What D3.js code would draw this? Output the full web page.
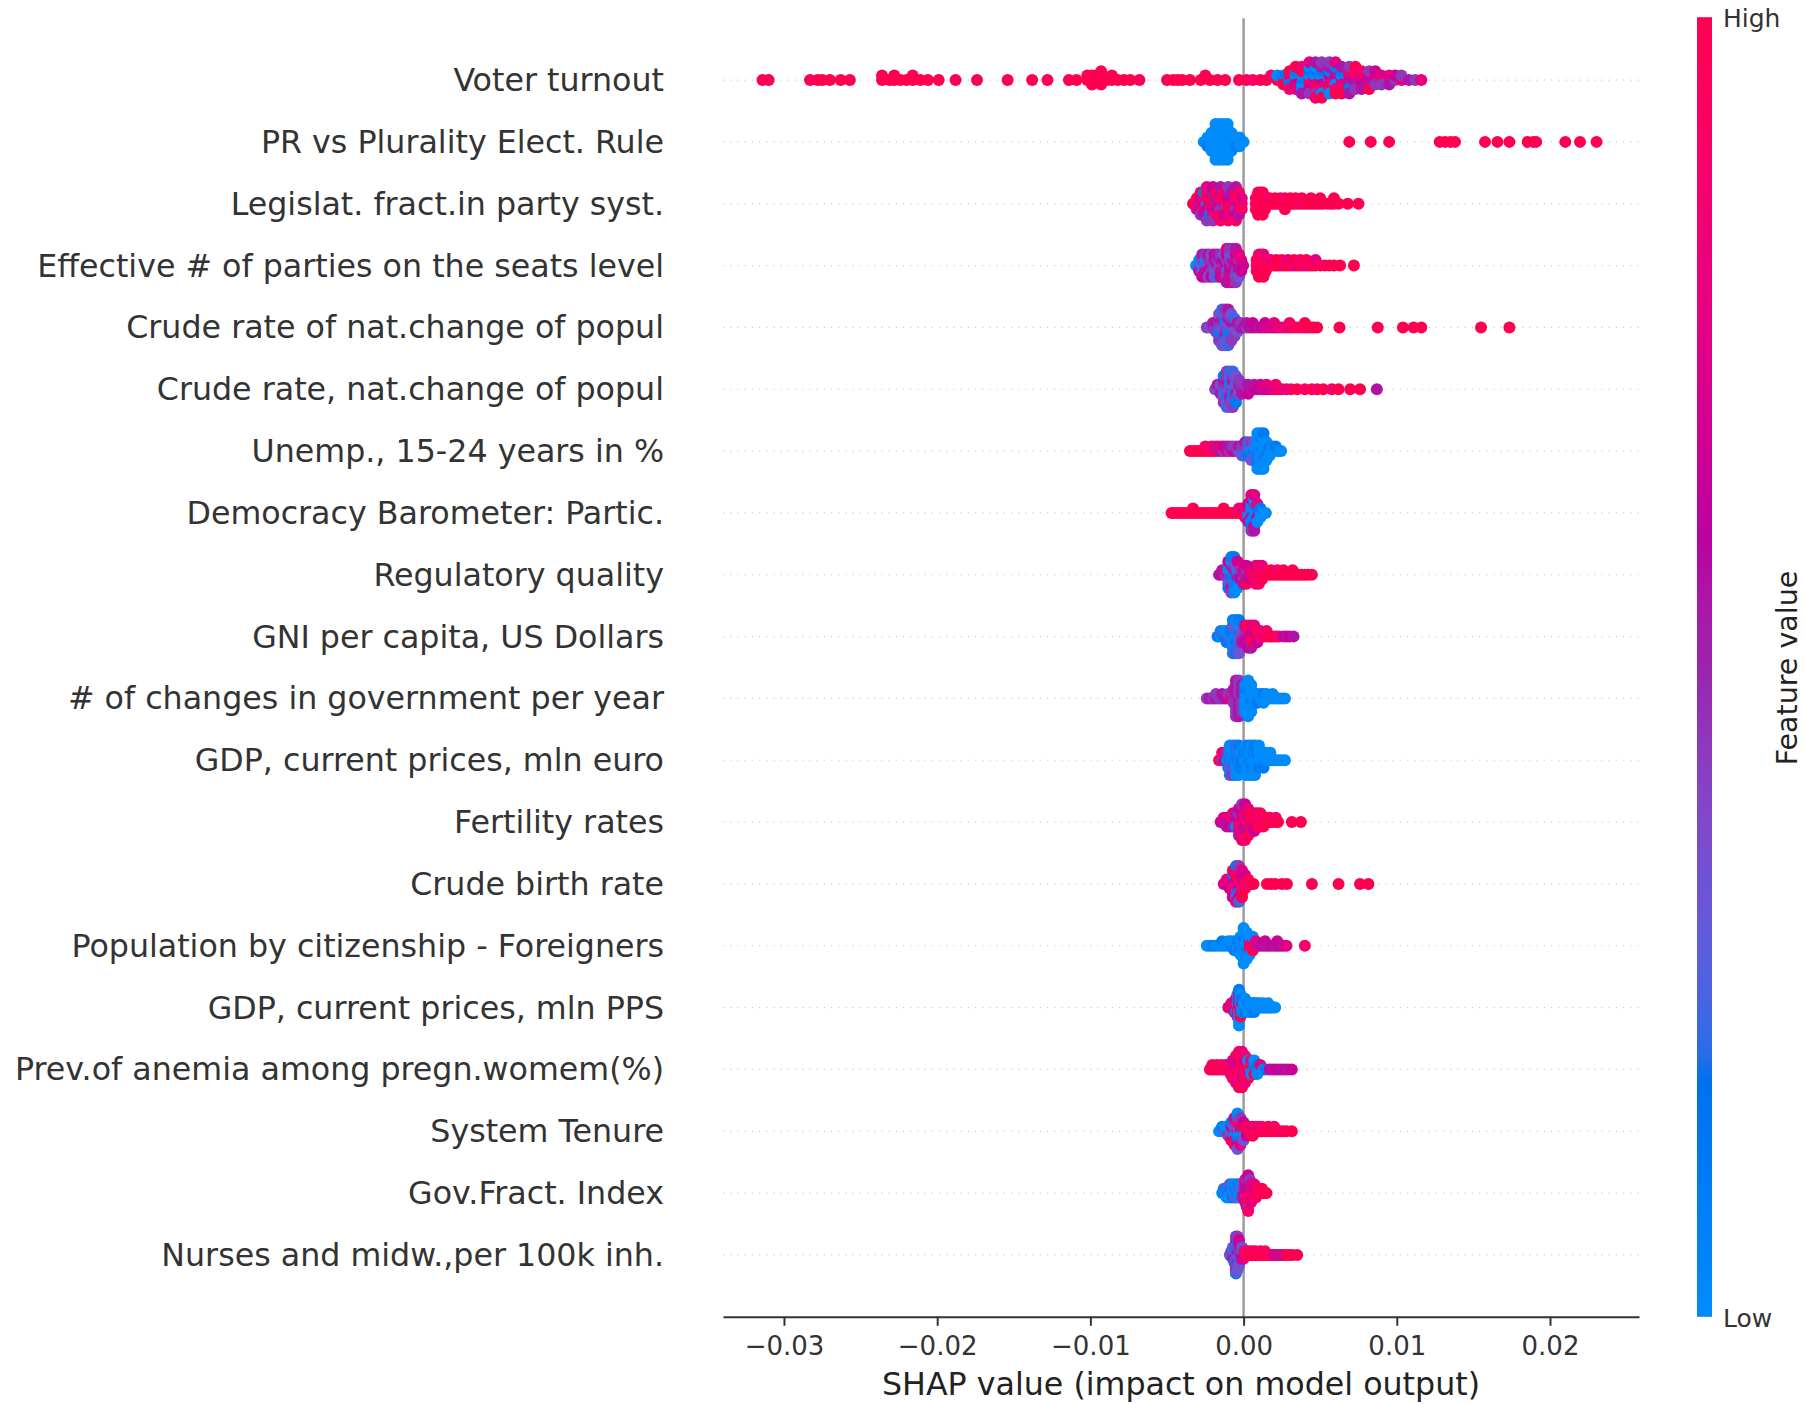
<!DOCTYPE html>
<html>
<head>
<meta charset="utf-8">
<script src="https://cdn.jsdelivr.net/npm/d3@7"></script>
<style>
  html, body { margin: 0; padding: 0; background: #ffffff; }
  svg { display: block; font-family: "DejaVu Sans", sans-serif; }
</style>
</head>
<body>
<svg id="chart" width="1805" height="1404"></svg>
<script>
// Feature names, most important first.
const featureNames = [
  "Voter turnout",
  "PR vs Plurality Elect. Rule",
  "Legislat. fract.in party syst.",
  "Effective # of parties on the seats level",
  "Crude rate of nat.change of popul",
  "Crude rate, nat.change of popul",
  "Unemp., 15-24 years in %",
  "Democracy Barometer: Partic.",
  "Regulatory quality",
  "GNI per capita, US Dollars",
  "# of changes in government per year",
  "GDP, current prices, mln euro",
  "Fertility rates",
  "Crude birth rate",
  "Population by citizenship - Foreigners",
  "GDP, current prices, mln PPS",
  "Prev.of anemia among pregn.womem(%)",
  "System Tenure",
  "Gov.Fract. Index",
  "Nurses and midw.,per 100k inh."
];

// Each entry: [SHAP value in units of 1e-4, feature-value levels of the samples at that value (0 = low ... 9 = high)]
const SHAP_UNIT = 1e-4;

const voterTurnout = [
  [-314,"9"],[-310,"9"],[-283,"9"],[-278,"9"],[-275,"9"],[-270,"9"],[-263,"9"],[-257,"9"],
  [-236,"99"],[-231,"9"],[-228,"99"],[-224,"9"],[-220,"9"],[-216,"99"],[-211,"9"],[-206,"9"],
  [-199,"9"],[-188,"9"],[-174,"9"],[-154,"9"],[-138,"9"],[-128,"9"],[-114,"9"],[-109,"9"],
  [-102,"99"],[-99,"999"],[-96,"99"],[-93,"99"],[-89,"9"],[-86,"99"],[-82,"9"],[-78,"9"],[-74,"9"],[-68,"9"],
  [-50,"9"],[-46,"9"],[-43,"9"],[-40,"9"],[-35,"9"],
  [-28,"9"],[-25,"9"],[-22,"9"],[-17,"9"],[-12,"9"],
  [-3,"9"],[2,"9"],[6,"8"],[11,"9"],[15,"9"],[18,"8"],
  [22,"90"],[26,"819"],[30,"07198"],[34,"806179"],[38,"6019085"],[43,"70816047"],[47,"607190458"],
  [51,"706185049"],[56,"06718504"],[60,"76058197"],[64,"6071859"],[69,"7658145"],[73,"675849"],
  [77,"57685"],[82,"76549"],[86,"5746"],[90,"674"],[95,"475"],[99,"46"],[103,"74"],[108,"5"],[112,"4"],[116,"7"]
];

const prVsPlurality = [
  [-26,"0"],[-23.5,"001"],[-21,"00000"],[-18.3,"000000000"],[-15.7,"000000000"],[-13,"000000000"],
  [-10.4,"000000000"],[-7.8,"00000"],[-5.2,"001"],[-2.6,"000"],[0,"0"],
  [69,"9"],[83,"9"],[95,"9"],[128,"9"],[131.5,"9"],[135,"9"],[138,"9"],[157.6,"9"],[165.7,"9"],
  [173.5,"9"],[185.4,"9"],[189,"9"],[191,"9"],[210,"9"],[219.6,"9"],[230.4,"9"]
];

const legislatFract = [
  [-33,"9"],[-30.5,"797"],[-28,"86594"],[-26,"67815"],[-24,"0869574"],[-22,"68871"],[-20,"7965864"],
  [-17.5,"85697"],[-15,"6847958"],[-12.5,"79486"],[-10,"8695748"],[-7.5,"96857"],[-5,"7849658"],
  [-3,"69785"],[-1.2,"978"],
  [8,"989"],[9.5,"99899"],[11,"9999"],[12.5,"98999"],[14,"999"],[15.5,"99"],[17,"98"],[19,"9"],
  [20.5,"99"],[22,"9"],[24,"99"],[25.5,"9"],[27,"989"],[29,"9"],[30.5,"99"],[32,"9"],[34,"99"],
  [36,"9"],[38,"89"],[40,"9"],[42,"9"],[44,"99"],[46,"9"],[48,"9"],[50,"99"],[52,"9"],[55,"9"],
  [57,"9"],[59,"99"],[62,"9"],[68,"9"],[75,"9"]
];

const effectiveParties = [
  [-31,"0"],[-29,"305"],[-27,"04356"],[-25,"30546"],[-23,"34653"],[-21,"54436"],[-19,"45363"],
  [-17,"64352"],[-15,"35746"],[-13,"46537"],[-11,"5436475"],[-9,"6453745"],[-7,"4563547"],
  [-5,"5746354"],[-3,"64573"],[-1.5,"576"],[-0.3,"6"],
  [8.5,"989"],[10,"99789"],[11.5,"9899"],[13,"98979"],[14.5,"989"],[16,"99"],[18,"97"],[20,"9"],
  [21.5,"89"],[23,"9"],[25,"99"],[27,"8"],[29,"97"],[31,"9"],[33,"89"],[35,"7"],[37,"98"],[39,"9"],
  [41,"79"],[43,"8"],[45,"9"],[47,"97"],[50,"9"],[53,"8"],[56,"9"],[59,"9"],[63,"9"],[72,"9"]
];

const natChangeA = [
  [-24,"4"],[-22,"3"],[-20,"45"],[-18,"354"],[-16,"3425134"],[-14,"243513423"],[-12,"324153243"],
  [-10,"432514352"],[-8,"3524134"],[-6,"45324"],[-4,"453"],[-2,"54"],[0,"5"],[2,"45"],[4,"5"],
  [6,"56"],[8,"6"],[10,"5"],[12,"6"],[14,"76"],[16,"6"],[18,"7"],[20,"67"],[22,"7"],[24,"8"],
  [26,"7"],[28,"8"],[30,"78"],[32,"8"],[34,"9"],[36,"8"],[38,"9"],[40,"89"],[42,"9"],[44,"9"],
  [46,"9"],[48,"9"],[62.6,"9"],[87.6,"9"],[104,"9"],[111,"9"],[116,"9"],[155,"9"],[173.5,"9"]
];

const natChangeB = [
  [-18.5,"4"],[-17,"35"],[-15,"435"],[-13,"3425314"],[-11,"243514342"],[-9,"324153423"],
  [-7,"432514324"],[-5,"1352431"],[-3,"4534"],[-1,"545"],[1,"54"],[3,"456"],[5,"5"],[7,"65"],
  [9,"6"],[11,"56"],[13,"7"],[15,"67"],[17,"6"],[19,"7"],[21,"78"],[23,"7"],[25,"8"],[28,"7"],
  [31,"8"],[35,"9"],[40,"8"],[44.6,"9"],[48,"8"],[52,"9"],[57.6,"8"],[62,"9"],[69.6,"9"],[76,"9"],[87,"5"]
];

const unempYouth = [
  [-35,"9"],[-33,"9"],[-31,"9"],[-29,"9"],[-27,"9"],[-25,"98"],[-23,"9"],[-21,"97"],[-19,"79"],
  [-17,"95"],[-15,"58"],[-13,"46"],[-11,"75"],[-9,"45"],[-7,"64"],[-5,"54"],[-3,"35"],[-1,"243"],
  [1,"1425"],[3,"0312"],[5,"20143"],[7,"1023"],[9,"001020100"],[11,"010001000"],[13,"100020010"],
  [15,"00100"],[17,"010"],[19,"00"],[21,"01"],[23,"0"],[24.5,"0"]
];

const democracyPartic = [
  [-47,"9"],[-45,"9"],[-43,"9"],[-41,"9"],[-39,"9"],[-37,"9"],[-35,"9"],[-33,"99"],[-31,"9"],
  [-29,"9"],[-27,"9"],[-25,"9"],[-23,"9"],[-21,"9"],[-19,"9"],[-17,"9"],[-15,"9"],[-13,"99"],
  [-11,"9"],[-9,"9"],[-7,"9"],[-5,"9"],[-3,"98"],[-1,"97"],[1,"789"],[3,"07065"],
  [5,"005006174"],[7,"100410675"],[9,"01670"],[11,"010"],[13,"0"],[14.5,"0"]
];

const regulatoryQuality = [
  [-16,"5"],[-14,"65"],[-12,"47"],[-10,"5040361"],[-8,"401530614"],[-6,"051403210"],[-4,"4053160"],
  [-2,"546"],[0,"65475"],[2,"74569"],[4,"576"],[6,"98"],[8,"97968"],[10,"89798"],[12,"9897"],
  [14,"98"],[16,"9"],[18,"99"],[20,"9"],[22,"98"],[24,"9"],[26,"99"],[28,"9"],[30,"9"],[32,"99"],
  [34,"9"],[36,"9"],[38,"9"],[40,"9"],[42,"9"],[44.6,"9"]
];

const gniPerCapita = [
  [-17,"1"],[-15,"02"],[-13,"10"],[-11,"201"],[-9,"012"],[-7,"2103012"],[-5,"0213201"],[-3,"3120213"],
  [-1,"435"],[1,"5467"],[3,"67586"],[5,"76895"],[7,"8697"],[9,"796"],[11,"98"],[13,"7"],[15,"98"],
  [17,"9"],[19,"9"],[21,"9"],[23,"8"],[26,"6"],[28,"5"],[30,"6"],[32.6,"5"]
];

const govChanges = [
  [-24,"4"],[-22,"5"],[-20,"4"],[-18,"54"],[-16,"4"],[-14,"45"],[-12,"5"],[-10,"54"],[-8.5,"8"],
  [-6.5,"5445"],[-5,"454545454"],[-3,"545454545"],[-1,"4545454"],[1,"0001000"],[3,"000100000"],
  [5,"0010000"],[7,"000"],[9,"001"],[11,"00"],[13,"010"],[15,"00"],[17,"0"],[19,"00"],[21,"0"],
  [23,"0"],[25,"0"],[27,"0"]
];

const gdpEuro = [
  [-16,"8"],[-15,"9"],[-14,"48"],[-13,"97"],[-12,"5"],[-11,"14"],[-10,"041"],[-9,"10302"],[-8,"01"],
  [-7,"20104"],[-6,"103"],[-5,"01020"],[-4,"10"],[-3,"02010"],[-2,"201"],[-1,"10"],[0.5,"01"],
  [1.5,"00100"],[2.5,"010"],[3.5,"00010"],[4.5,"100"],[5.5,"00100"],[6.5,"01"],[7.5,"00010"],
  [8.5,"010"],[10,"0010"],[11.5,"00"],[13,"001"],[14.5,"00"],[16,"0"],[17.5,"00"],[19,"0"],
  [21,"0"],[23,"0"],[25,"0"],[27,"0"]
];

const fertilityRates = [
  [-15,"6"],[-13,"57"],[-11,"765"],[-9,"576"],[-7,"6758"],[-5,"7605"],[-3,"6784765"],[-1,"768576847"],
  [1,"876958768"],[3,"9786579"],[5,"89798"],[7,"98796"],[9,"9897"],[11,"7989"],[13,"989"],[15,"98"],
  [17,"99"],[19,"9"],[21,"98"],[22.5,"9"],[31.5,"9"],[37.4,"9"]
];

const crudeBirthRate = [
  [-13,"7"],[-11,"67"],[-9,"786"],[-7,"7681796"],[-5,"867947318"],[-3,"786918642"],[-1,"9786879"],
  [1,"7896"],[3,"89"],[5,"8"],[6.5,"9"],[15.2,"9"],[17.8,"9"],[20.6,"9"],[25,"9"],[28.3,"9"],
  [44.6,"9"],[62,"9"],[76,"9"],[81.5,"9"]
];

const foreigners = [
  [-24,"0"],[-22,"0"],[-20,"1"],[-18,"0"],[-16,"0"],[-14,"01"],[-12,"0"],[-10,"00"],[-8,"10"],
  [-6,"001"],[-4,"010"],[-2,"00100"],[0,"000100000"],[2,"0010000"],[4,"97800"],[6,"8790"],[8,"97"],
  [10,"5"],[12,"6"],[14,"56"],[16,"5"],[18,"6"],[20,"5"],[22,"56"],[24,"6"],[26,"5"],[28,"7"],[40,"8"]
];

const gdpPps = [
  [-10,"7"],[-9,"6"],[-8,"95"],[-7,"78"],[-6,"596"],[-5,"9706"],[-4,"709150"],[-3,"960708010"],
  [-2,"607090"],[-1,"0701"],[0,"001"],[1,"0010"],[2,"00"],[3,"010"],[4,"00"],[5,"000"],[6,"00"],
  [7,"001"],[8,"00"],[9,"00"],[10,"0"],[11,"00"],[12,"0"],[13,"00"],[14,"0"],[15,"0"],[16,"00"],
  [17,"0"],[18,"0"],[19.5,"0"],[20.6,"0"]
];

const anemia = [
  [-22,"9"],[-20.5,"98"],[-19,"9"],[-17.5,"89"],[-16,"9"],[-14.5,"98"],[-13,"9"],[-11.5,"89"],
  [-10,"97"],[-8.5,"897"],[-7,"98769"],[-5,"8796897"],[-3,"978698798"],[-1,"897968979"],
  [1,"7986987"],[3,"89709"],[5,"0908"],[7,"0190"],[9,"010"],[11,"07"],[13,"0"],[14.5,"1"],
  [17,"6"],[19,"5"],[21,"6"],[23,"6"],[25,"5"],[27,"6"],[29,"5"],[31.5,"6"]
];

const systemTenure = [
  [-16,"0"],[-14,"01"],[-12,"30"],[-10,"104"],[-8,"06317"],[-6,"6304958"],[-4,"730914603"],
  [-2,"8509147"],[0,"97063"],[2,"896"],[4,"98"],[6,"979"],[8,"89"],[10,"97"],[12,"98"],[14,"9"],
  [16,"89"],[18,"9"],[20,"98"],[22,"9"],[24,"9"],[26,"8"],[28,"9"],[31.5,"9"]
];

const govFract = [
  [-14,"0"],[-13,"10"],[-12,"03"],[-11,"010"],[-10,"20"],[-9,"0103"],[-8,"01"],[-7,"3010"],
  [-6,"02"],[-5,"0130"],[-4,"10"],[-3,"0201"],[-2,"03"],[-1,"1040"],[0,"5463"],[1,"654768"],
  [2,"7685946"],[3,"867597468"],[4,"758694"],[5,"86957"],[6,"7968"],[7,"8697"],[8,"968"],
  [9,"79"],[10,"98"],[11,"9"],[12,"89"],[13,"9"],[14,"9"],[15,"9"]
];

const nurses = [
  [-9,"3"],[-8,"24"],[-7,"4253"],[-6,"42531"],[-5,"53412345642"],[-4,"4531524134"],[-3,"35241536"],
  [-2,"5246"],[-1,"6453"],[0,"547"],[1,"69"],[2,"98"],[3,"9"],[4,"98"],[5,"9"],[6,"99"],[7,"9"],
  [8,"98"],[9,"9"],[10,"9"],[11,"89"],[12,"9"],[13,"9"],[14,"98"],[15,"9"],[16,"9"],[17,"9"],
  [18,"8"],[19,"9"],[20,"6"],[21,"7"],[22,"5"],[23,"8"],[24,"6"],[25,"9"],[26,"5"],[28,"9"],
  [30,"9"],[32,"9"],[35,"9"]
];

const featureSamples = [
  voterTurnout, prVsPlurality, legislatFract, effectiveParties, natChangeA, natChangeB,
  unempYouth, democracyPartic, regulatoryQuality, gniPerCapita, govChanges, gdpEuro,
  fertilityRates, crudeBirthRate, foreigners, gdpPps, anemia, systemTenure, govFract, nurses
];

const xTickValues = [-0.03, -0.02, -0.01, 0.00, 0.01, 0.02];
const xTitle = "SHAP value (impact on model output)";
const colorBarLabels = { high: "High", low: "Low", title: "Feature value" };

// ---------- layout ----------
const svg = d3.select("#chart");
const plot = { left: 723, right: 1639, top: 18.2, bottom: 1316.8 };
const nRows = featureNames.length;

const x = d3.scaleLinear().domain([-0.03398, 0.02581]).range([plot.left, plot.right]);
// y positions follow the usual summary layout: row 0 at the bottom, limits -1 .. n
const y = d3.scaleLinear().domain([-1, nRows]).range([plot.bottom, plot.top]);

// Red-blue colour map defined in LCh space (lightness dips in the middle).
function lchToRgb(L, C, H) {
  const a = C * Math.cos(H), b = C * Math.sin(H);
  const fy = (L + 16) / 116, fx = fy + a / 500, fz = fy - b / 200;
  const finv = t => (t > 0.2068966 ? t * t * t : (t - 16 / 116) / 7.787);
  const X = 0.95047 * finv(fx), Y = finv(fy), Z = 1.08883 * finv(fz);
  const lin = [
    3.24048134 * X - 1.53715152 * Y - 0.49853633 * Z,
    -0.96925495 * X + 1.87599 * Y + 0.04155593 * Z,
    0.05564664 * X - 0.20404134 * Y + 1.05731107 * Z
  ];
  const gam = v => (v > 0.0031308 ? 1.055 * Math.pow(v, 1 / 2.4) - 0.055 : 12.92 * v);
  const c = lin.map(v => Math.round(255 * Math.min(1, Math.max(0, gam(v)))));
  return d3.rgb(c[0], c[1], c[2]).formatHex();
}
const blueLch = [54, 70, 4.6588], redLch = [54, 90, 0.35470565 + 2 * Math.PI], lMid = 40;
function redBlue(t) {
  const L = t < 0.5 ? blueLch[0] + (lMid - blueLch[0]) * (t / 0.5)
                    : lMid + (redLch[0] - lMid) * ((t - 0.5) / 0.5);
  const C = blueLch[1] + (redLch[1] - blueLch[1]) * t;
  const H = blueLch[2] + (redLch[2] - blueLch[2]) * t;
  return lchToRgb(L, C, H);
}
const color = d3.scaleSequential(redBlue).domain([0, 9]);

// ---------- background guides ----------
const rowPos = i => nRows - 1 - i;

svg.append("g").selectAll("line")
  .data(featureNames)
  .join("line")
  .attr("x1", plot.left).attr("x2", plot.right)
  .attr("y1", (d, i) => y(rowPos(i))).attr("y2", (d, i) => y(rowPos(i)))
  .attr("stroke", "#cccccc").attr("stroke-width", 1.2)
  .attr("stroke-dasharray", "1.2,6");

svg.append("line")
  .attr("x1", x(0)).attr("x2", x(0))
  .attr("y1", plot.top).attr("y2", plot.bottom)
  .attr("stroke", "#999999").attr("stroke-width", 2.4);

// ---------- beeswarm layout (binned stacking per row) ----------
function swarmOffsets(vals) {
  const nbins = 100;
  const mn = d3.min(vals), mx = d3.max(vals);
  const quant = vals.map(v => Math.round(nbins * (v - mn) / (mx - mn + 1e-8)));
  const order = d3.range(vals.length).sort((a, b) => quant[a] - quant[b] || a - b);
  const ys = new Array(vals.length).fill(0);
  let layer = 0, last = -1;
  for (const i of order) {
    if (quant[i] !== last) layer = 0;
    ys[i] = Math.ceil(layer / 2) * ((layer % 2) * 2 - 1);
    layer += 1;
    last = quant[i];
  }
  const m = d3.max(ys) + 1;
  return ys.map(v => v * 0.9 * 0.4 / m);
}

const dots = svg.append("g");
featureSamples.forEach((groups, i) => {
  const pts = [];
  groups.forEach(([v, levels]) => {
    for (const ch of levels) pts.push({ value: v * SHAP_UNIT, level: +ch });
  });
  const offs = swarmOffsets(pts.map(p => p.value));
  dots.append("g").selectAll("circle")
    .data(pts)
    .join("circle")
    .attr("cx", d => x(d.value))
    .attr("cy", (d, k) => y(rowPos(i) + offs[k]))
    .attr("r", 6)
    .attr("fill", d => color(d.level));
});

// ---------- feature labels ----------
svg.append("g").selectAll("text")
  .data(featureNames)
  .join("text")
  .attr("x", 664)
  .attr("y", (d, i) => y(rowPos(i)) + 11)
  .attr("text-anchor", "end")
  .attr("font-size", 31.7)
  .attr("fill", "#333333")
  .text(d => d);

// ---------- x axis ----------
const xAxis = d3.axisBottom(x)
  .tickValues(xTickValues)
  .tickFormat(d3.format(".2f"))
  .tickSize(9)
  .tickSizeOuter(0)
  .tickPadding(11);

const gx = svg.append("g")
  .attr("transform", `translate(0,${plot.bottom})`)
  .call(xAxis);
gx.select(".domain").attr("stroke", "#333333").attr("stroke-width", 2);
gx.selectAll(".tick line").attr("stroke", "#333333").attr("stroke-width", 2);
gx.selectAll(".tick text")
  .attr("font-family", "DejaVu Sans")
  .attr("font-size", 26)
  .attr("fill", "#333333");

svg.append("text")
  .attr("x", (plot.left + plot.right) / 2)
  .attr("y", 1395)
  .attr("text-anchor", "middle")
  .attr("font-size", 31.7)
  .attr("fill", "#222222")
  .text(xTitle);

// ---------- colour bar ----------
const defs = svg.append("defs");
const grad = defs.append("linearGradient")
  .attr("id", "featureGradient")
  .attr("x1", 0).attr("y1", 1).attr("x2", 0).attr("y2", 0);
d3.range(0, 1.0001, 0.02).forEach(t => {
  grad.append("stop").attr("offset", t).attr("stop-color", redBlue(t));
});
svg.append("rect")
  .attr("x", 1697).attr("y", plot.top - 1)
  .attr("width", 15).attr("height", plot.bottom - plot.top + 1)
  .attr("fill", "url(#featureGradient)");

svg.append("text")
  .attr("x", 1723).attr("y", 27)
  .attr("font-size", 25).attr("fill", "#333333")
  .text(colorBarLabels.high);
svg.append("text")
  .attr("x", 1723).attr("y", 1327)
  .attr("font-size", 25).attr("fill", "#333333")
  .text(colorBarLabels.low);
svg.append("text")
  .attr("transform", "translate(1797,668) rotate(-90)")
  .attr("text-anchor", "middle")
  .attr("font-size", 28.5)
  .attr("fill", "#222222")
  .text(colorBarLabels.title);
</script>
</body>
</html>
